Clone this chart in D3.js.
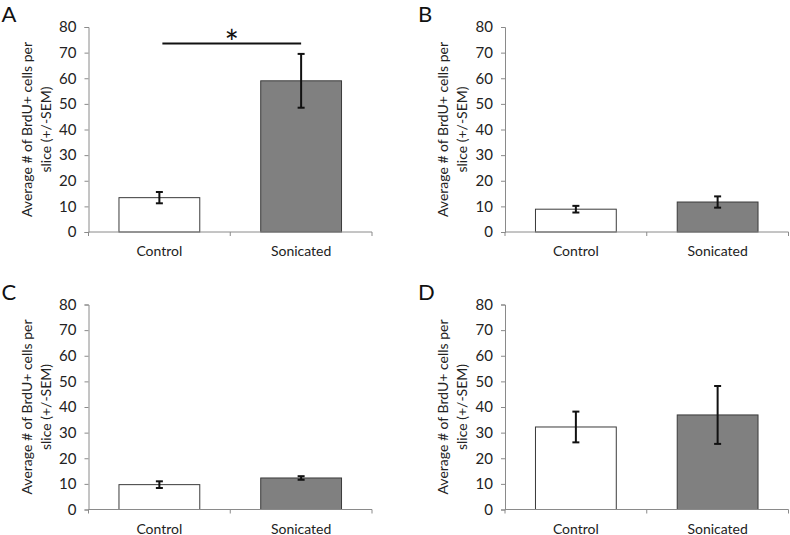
<!DOCTYPE html>
<html>
<head>
<meta charset="utf-8">
<script src="https://cdn.jsdelivr.net/npm/d3@7"></script>
<style>
  html, body { margin: 0; padding: 0; background: #fff; }
  svg text { font-family: Lato, "Open Sans", sans-serif; }
</style>
</head>
<body>
<svg id="chart" width="790" height="535"></svg>
<script>
// ---- data ----
const categories = ["Control", "Sonicated"];
const panelLabels = ["A", "B", "C", "D"];
const meansA = [13.4, 59.0];
const semA   = [2.2, 10.5];
const meansB = [8.9, 11.7];
const semB   = [1.3, 2.2];
const meansC = [9.7, 12.3];
const semC   = [1.3, 0.7];
const meansD = [32.2, 36.9];
const semD   = [6.0, 11.3];
const yTicks = [0, 10, 20, 30, 40, 50, 60, 70, 80];
const yTitle = ["Average # of BrdU+ cells per", "slice (+/-SEM)"];
const significance = [{ panel: "A", label: "*", value: 73.6 }];

const seriesMeans = [meansA, meansB, meansC, meansD];
const seriesSem = [semA, semB, semC, semD];
const barFill = ["#ffffff", "#808080"];

// ---- layout ----
const svg = d3.select("#chart");
const origins = [
  { x: 88.5, y: 232 },
  { x: 505, y: 232 },
  { x: 88.5, y: 509.5 },
  { x: 505, y: 509.5 }
];
const plotW = 283.5, plotH = 205;
const textColor = "#222";
const axisColor = "#8a8a8a";

panelLabels.forEach((lab, i) => {
  const o = origins[i];
  const g = svg.append("g").attr("transform", `translate(${o.x},${o.y - plotH})`);
  const x = d3.scaleBand().domain(categories).range([0, plotW]).paddingInner(0.43).paddingOuter(0.215);
  const y = d3.scaleLinear().domain([0, 80]).range([plotH, 0]);
  const means = seriesMeans[i], sem = seriesSem[i];

  // panel letter
  svg.append("text")
    .attr("x", o.x - 87).attr("y", o.y - plotH - 5)
    .attr("font-size", 22).attr("fill", "#111").text(lab);

  // y axis
  const yAxis = g.append("g").call(d3.axisLeft(y).tickValues(yTicks).tickSize(4).tickPadding(8).tickFormat(d3.format("d")));
  yAxis.select(".domain").attr("stroke", axisColor).attr("stroke-width", 1);
  yAxis.selectAll(".tick line").attr("stroke", axisColor);
  yAxis.selectAll(".tick text").attr("font-size", 15).attr("fill", textColor)
    .style("font-family", "Lato, sans-serif");

  // x axis (band boundaries ticks drawn downward)
  const xAxisG = g.append("g").attr("transform", `translate(0,${plotH})`);
  const boundaries = [0, (x(categories[0]) + x.bandwidth() + x(categories[1])) / 2, plotW];
  xAxisG.selectAll("line.bt").data(boundaries).enter().append("line")
    .attr("class", "bt")
    .attr("x1", d => d).attr("x2", d => d).attr("y1", 0).attr("y2", 4)
    .attr("stroke", axisColor);
  xAxisG.selectAll("text").data(categories).enter().append("text")
    .attr("x", d => x(d) + x.bandwidth() / 2).attr("y", 24)
    .attr("text-anchor", "middle").attr("font-size", 14).attr("fill", textColor)
    .text(d => d);

  // bars
  g.selectAll("rect.bar").data(categories).enter().append("rect")
    .attr("class", "bar")
    .attr("x", d => x(d)).attr("width", x.bandwidth())
    .attr("y", (d, j) => y(means[j])).attr("height", (d, j) => plotH - y(means[j]))
    .attr("fill", (d, j) => barFill[j]).attr("stroke", "#3a3a3a").attr("stroke-width", 1);

  // axis line over bar bottoms
  g.append("line").attr("x1", 0).attr("x2", plotW).attr("y1", plotH).attr("y2", plotH)
    .attr("stroke", axisColor).attr("stroke-width", 1);

  // error bars
  const cap = 3.5;
  categories.forEach((c, j) => {
    const cx = x(c) + x.bandwidth() / 2;
    const eb = g.append("g").attr("stroke", "#111").attr("stroke-width", 2);
    eb.append("line").attr("x1", cx).attr("x2", cx).attr("y1", y(means[j] + sem[j])).attr("y2", y(means[j] - sem[j]));
    eb.append("line").attr("x1", cx - cap).attr("x2", cx + cap).attr("y1", y(means[j] + sem[j])).attr("y2", y(means[j] + sem[j]));
    eb.append("line").attr("x1", cx - cap).attr("x2", cx + cap).attr("y1", y(means[j] - sem[j])).attr("y2", y(means[j] - sem[j]));
  });

  // y title
  const tg = g.append("g").attr("transform", `translate(0,${plotH / 2}) rotate(-90)`);
  tg.append("text").attr("x", 0).attr("y", -57).attr("text-anchor", "middle")
    .attr("font-size", 14).attr("fill", textColor).text(yTitle[0]);
  tg.append("text").attr("x", 0).attr("y", -38).attr("text-anchor", "middle")
    .attr("font-size", 14).attr("fill", textColor).text(yTitle[1]);

  // significance
  significance.filter(s => s.panel === lab).forEach(s => {
    const x1 = x(categories[0]) + x.bandwidth() / 2 + 3;
    const x2 = x(categories[1]) + x.bandwidth() / 2;
    g.append("line").attr("x1", x1).attr("x2", x2).attr("y1", y(s.value)).attr("y2", y(s.value))
      .attr("stroke", "#111").attr("stroke-width", 2);
    g.append("text").attr("x", (x1 + x2) / 2).attr("y", y(s.value) + 12)
      .attr("text-anchor", "middle").attr("font-size", 34).attr("fill", "#111").text(s.label);
  });
});
</script>
</body>
</html>
